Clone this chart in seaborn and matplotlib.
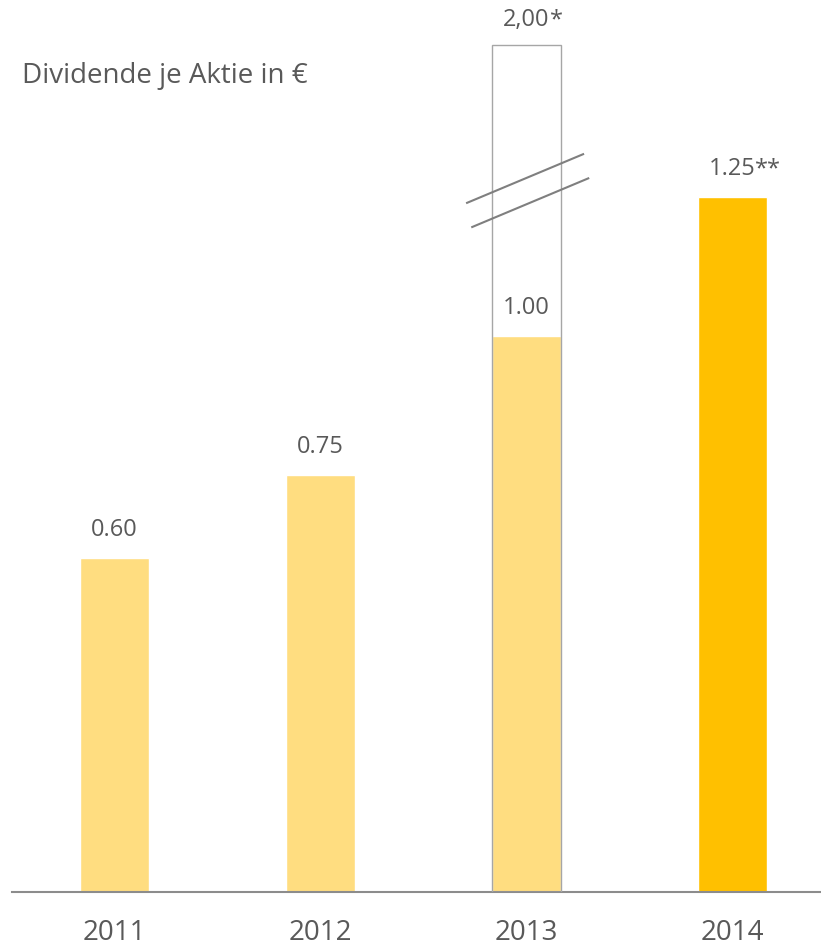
import matplotlib
matplotlib.use("Agg")
import pandas as pd
import seaborn as sns
import matplotlib.pyplot as plt

# -----------------------------
# Data
# -----------------------------
years = ["2011", "2012", "2013", "2014"]
dividend = [0.60, 0.75, 1.00, 1.25]
labels = ["0.60", "0.75", "1.00", "1.25"]
suffixes = ["", "", "", "**"]
bar_colors = ["#FFDD80", "#FFDD80", "#FFDD80", "#FFC000"]

# 2013 total incl. special dividend, shown on a broken bar
special_year = "2013"
special_value = 2.00
special_label = "2,00"
special_suffix = "*"
break_cap = 1.523  # visible height of the broken bar

title = "Dividende je Aktie in €"
text_grey = "#595959"

df = pd.DataFrame({"Jahr": years, "Dividende": dividend})

sns.set_theme(style="white")
plt.rcParams["font.family"] = ["Open Sans", "DejaVu Sans"]

fig = plt.figure(figsize=(8.21, 9.49), dpi=100)
ax = fig.add_axes([12 / 821, (949 - 891.5) / 949, 809 / 821, 891.5 / 949])

# -----------------------------
# Bars
# -----------------------------
sns.barplot(
    data=df, x="Jahr", y="Dividende", hue="Jahr",
    palette=bar_colors, order=years, width=0.335,
    errorbar=None, legend=False, saturation=1, ax=ax
)

outline = pd.DataFrame({"Jahr": [special_year], "Dividende": [break_cap]})
sns.barplot(
    data=outline, x="Jahr", y="Dividende", order=years,
    fill=False, color="#A6A6A6", width=0.335, linewidth=1.0,
    errorbar=None, ax=ax, zorder=3
)

# break marks on the 2013 bar
xi = years.index(special_year)
for dx, dy in ((0.0, 0.0), (0.025, -0.0435)):
    ax.plot([xi - 0.292 + dx, xi + 0.281 + dx],
            [1.239 + dy, 1.328 + dy],
            color="#7F7F7F", lw=1.5, zorder=4, solid_capstyle="butt")

# -----------------------------
# Value labels
# -----------------------------
def add_label(x, y, text, suffix, offset):
    t = ax.annotate(text, xy=(x, y), xytext=(0, offset),
                    textcoords="offset points", ha="center", va="center",
                    fontsize=17, color=text_grey)
    if suffix:
        ax.annotate(suffix, xy=(1, 1), xycoords=t, ha="left", va="top",
                    fontsize=17, color=text_grey)

for i, (v, lab, suf) in enumerate(zip(dividend, labels, suffixes)):
    add_label(i, v, lab, suf, 20)

add_label(xi, break_cap, special_label, special_suffix, 18)

# -----------------------------
# Axes styling
# -----------------------------
ax.set_xlim(-0.498, 3.432)
ax.set_ylim(0, 891.5 / 555.5)
ax.set_xlabel("")
ax.set_ylabel("")
ax.set_yticks([])
ax.tick_params(axis="x", length=0, pad=20, labelsize=20, labelcolor=text_grey)
for side in ["top", "left", "right"]:
    ax.spines[side].set_visible(False)
ax.spines["bottom"].set_color("#8C8C8C")
ax.spines["bottom"].set_linewidth(1.5)

fig.text(22 / 821, 1 - 76 / 949, title, ha="left", va="center",
         fontsize=20, color=text_grey)

fig.savefig("out.png", dpi=100)
